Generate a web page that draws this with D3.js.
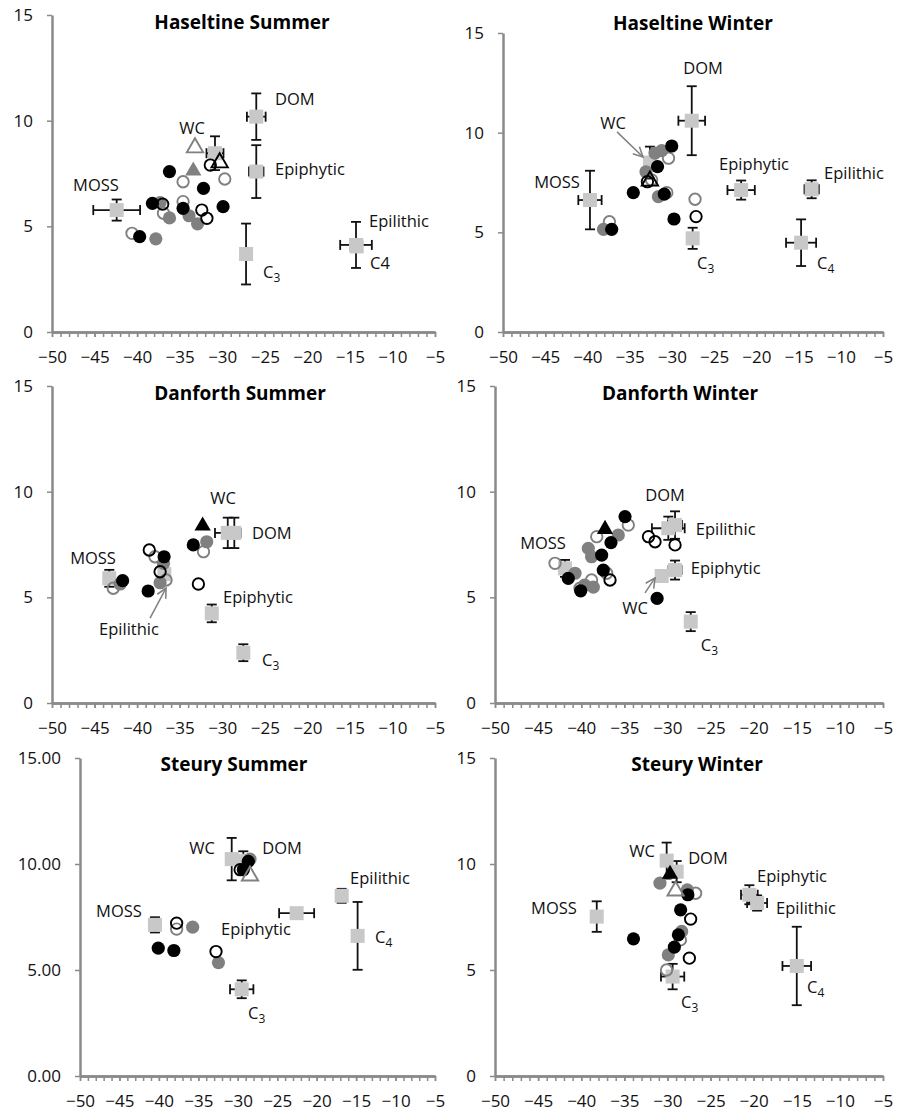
<!DOCTYPE html>
<html>
<head>
<meta charset="utf-8">
<script src="https://cdn.jsdelivr.net/npm/d3@7"></script>
<style>
  body { margin: 0; background: #fff; }
  svg { display: block; }
</style>
</head>
<body>
<div id="chart"></div>
<script>
// ---- data: [d13C, d15N] per marker type, one group of arrays per panel ----
const xTicks = [-50, -45, -40, -35, -30, -25, -20, -15, -10, -5];
const yTicks = [0, 5, 10, 15];

// Haseltine Summer
const hsSolidBlack = [[-36.2, 7.59], [-32.2, 6.8], [-38.2, 6.09], [-34.6, 5.85], [-29.9, 5.93], [-39.7, 4.51]];
const hsSolidGray = [[-37.3, 6.12], [-36.2, 5.4], [-33.9, 5.5], [-32.9, 5.12], [-37.8, 4.41]];
const hsOpenBlack = [[-31.4, 7.9], [-37.0, 6.05], [-32.4, 5.77], [-31.8, 5.38]];
const hsOpenGray = [[-29.7, 7.24], [-34.6, 7.11], [-36.9, 5.62], [-34.6, 6.17], [-40.6, 4.67]];
const hsTriangles = [[-33.2, 8.77, "openGray"], [-33.4, 7.67, "solidGray"], [-30.3, 8.06, "openBlack"]];
// [name, x, y, xErr, yErr]
const hsSources = [["MOSS", -42.4, 5.77, 2.75, 0.5], ["WC", -30.85, 8.46, 1.0, 0.8], ["DOM", -26.0, 10.19, 1.1, 1.1],
  ["Epiphytic", -26.0, 7.59, 0.85, 1.25], ["C3", -27.2, 3.69, 0, 1.44], ["Epilithic", -14.28, 4.12, 1.86, 1.09], ["C4", -14.2, 4.05, 0, 0]];
// [text, x, y, anchor, subscript]
const hsLabels = [["DOM", -23.8, 11.03, "start"], ["WC", -33.55, 9.65, "middle"], ["Epiphytic", -23.8, 7.71, "start"],
  ["MOSS", -44.83, 6.96, "middle"], ["Epilithic", -12.75, 5.25, "start"], ["C4", -12.63, 3.27, "start"], ["C", -25.2, 2.84, "start", "3"]];
const hsArrows = [];

// Haseltine Winter
const hwSolidBlack = [[-30.02, 9.33], [-31.7, 8.3], [-34.57, 6.99], [-30.9, 6.92], [-29.75, 5.67], [-37.13, 5.15]];
const hwSolidGray = [[-32.0, 8.97], [-31.2, 9.1], [-33.07, 8.04], [-31.6, 6.79], [-38.1, 5.15]];
const hwOpenBlack = [[-32.9, 7.54], [-27.14, 5.79]];
const hwOpenGray = [[-30.4, 8.72], [-32.4, 7.63], [-30.6, 6.99], [-27.26, 6.66], [-37.4, 5.53]];
const hwTriangles = [[-32.6, 7.63, "openBlack"]];
const hwSources = [["MOSS", -39.7, 6.62, 1.38, 1.47], ["WC", -32.6, 8.5, 0.6, 0.8], ["DOM", -27.65, 10.6, 1.58, 1.73],
  ["Epiphytic", -21.8, 7.12, 1.62, 0.48], ["C3", -27.54, 4.7, 0, 0.53], ["Epilithic", -13.45, 7.16, 0.85, 0.45], ["C4", -14.7, 4.48, 1.78, 1.17]];
const hwLabels = [["DOM", -26.3, 13.25, "middle"], ["WC", -36.97, 10.49, "middle"], ["Epiphytic", -20.27, 8.43, "middle"],
  ["Epilithic", -8.43, 7.98, "middle"], ["MOSS", -43.6, 7.53, "middle"], ["C", -27.03, 3.46, "start", "3"], ["C", -12.81, 3.46, "start", "4"]];
const hwArrows = [[-36.5, 10.04, -33.42, 8.78]];

// Danforth Summer
const dsSolidBlack = [[-33.4, 7.48], [-36.83, 6.92], [-38.7, 5.3], [-41.7, 5.79]];
const dsSolidGray = [[-31.82, 7.63], [-36.9, 6.61], [-37.3, 5.69], [-42.0, 5.63]];
const dsOpenBlack = [[-38.57, 7.24], [-37.3, 6.21], [-32.8, 5.63]];
const dsOpenGray = [[-32.2, 7.16], [-37.9, 6.92], [-36.6, 5.82], [-42.8, 5.43]];
const dsTriangles = [[-32.3, 8.43, "solidBlack"]];
const dsSources = [["MOSS", -43.27, 5.9, 0, 0.4], ["Epilithic", -36.8, 6.1, 0, 0], ["WC", -29.35, 8.05, 1.5, 0.72],
  ["DOM", -28.58, 8.05, 0, 0.72], ["Epiphytic", -31.23, 4.24, 0, 0.42], ["C3", -27.52, 2.38, 0, 0.4]];
const dsLabels = [["MOSS", -45.18, 6.86, "middle"], ["WC", -29.9, 9.7, "middle"], ["DOM", -26.5, 8.05, "start"],
  ["Epiphytic", -29.9, 5.02, "start"], ["Epilithic", -40.95, 3.5, "middle"], ["C", -25.32, 2.03, "start", "3"]];
const dsArrows = [[-38.48, 4.02, -36.6, 5.44]];

// Danforth Winter
const dwSolidBlack = [[-34.92, 8.82], [-36.55, 7.59], [-37.63, 7.0], [-37.44, 6.29], [-41.5, 5.9], [-40.06, 5.31], [-31.2, 4.95]];
const dwSolidGray = [[-35.7, 7.95], [-39.18, 7.32], [-38.8, 6.92], [-40.72, 6.14], [-38.6, 5.48], [-39.6, 5.58]];
const dwOpenBlack = [[-32.2, 7.87], [-31.44, 7.63], [-29.12, 7.48], [-36.66, 5.82]];
const dwOpenGray = [[-34.54, 8.42], [-38.2, 7.87], [-37.05, 6.14], [-43.04, 6.61], [-38.8, 5.82], [-40.14, 5.43]];
const dwTriangles = [[-37.24, 8.27, "solidBlack"]];
const dwSources = [["MOSS", -41.88, 6.37, 0, 0.4], ["DOM", -29.9, 8.27, 1.9, 0.55], ["Epilithic", -29.12, 8.42, 0.8, 0.65],
  ["Epiphytic", -29.12, 6.29, 0.75, 0.45], ["WC", -30.67, 6.01, 0, 0], ["C3", -27.3, 3.85, 0, 0.45]];
const dwLabels = [["DOM", -30.28, 9.84, "middle"], ["Epilithic", -26.72, 8.23, "start"], ["Epiphytic", -27.3, 6.39, "start"],
  ["MOSS", -44.43, 7.57, "middle"], ["WC", -33.76, 4.5, "middle"], ["C", -26.14, 2.74, "start", "3"]];
const dwArrows = [[-32.6, 5.21, -31.44, 5.92]];

// Steury Summer
const ssSolidBlack = [[-28.67, 10.12], [-29.3, 9.73], [-40.08, 6.03], [-38.1, 5.92]];
const ssSolidGray = [[-28.45, 10.23], [-35.72, 7.02], [-32.45, 5.35]];
const ssOpenBlack = [[-29.7, 9.73], [-37.75, 7.21], [-32.76, 5.87]];
const ssOpenGray = [[-37.75, 6.93]];
const ssTriangles = [[-28.45, 9.49, "openGray"]];
const ssSources = [["WC", -30.77, 10.23, 0, 1.0], ["DOM", -29.3, 10.15, 0, 0.45], ["MOSS", -40.5, 7.13, 0, 0.36],
  ["C3", -29.5, 4.09, 1.48, 0.42], ["Epiphytic", -22.54, 7.68, 2.22, 0], ["Epilithic", -16.83, 8.5, 0, 0.33], ["C4", -14.81, 6.61, 0, 1.6]];
const ssLabels = [["WC", -34.54, 10.76, "middle"], ["DOM", -24.39, 10.76, "middle"], ["Epilithic", -11.97, 9.35, "middle"],
  ["MOSS", -45.06, 7.79, "middle"], ["Epiphytic", -27.69, 6.94, "middle"], ["C", -12.6, 6.56, "start", "4"], ["C", -28.7, 2.97, "start", "3"]];
const ssArrows = [];

// Steury Winter
const swSolidBlack = [[-27.63, 8.55], [-28.47, 7.84], [-28.73, 6.66], [-33.94, 6.47], [-29.2, 6.08]];
const swSolidGray = [[-30.87, 9.1], [-27.7, 8.78], [-28.35, 6.82], [-29.9, 5.71]];
const swOpenBlack = [[-27.31, 7.4], [-27.46, 5.56]];
const swOpenGray = [[-26.73, 8.62], [-28.5, 6.42], [-30.1, 5.0]];
const swTriangles = [[-29.7, 9.57, "solidBlack"], [-29.05, 8.78, "openGray"]];
const swSources = [["WC", -30.09, 10.16, 0, 0.85], ["DOM", -28.93, 9.64, 0, 0.5], ["MOSS", -38.2, 7.52, 0.4, 0.72],
  ["Epiphytic", -20.5, 8.55, 0.97, 0.45], ["Epilithic", -19.6, 8.16, 1.16, 0.36], ["C3", -29.4, 4.69, 1.35, 0.6], ["C4", -15.0, 5.19, 1.66, 1.85]];
const swLabels = [["WC", -32.95, 10.58, "middle"], ["DOM", -25.3, 10.25, "middle"], ["Epiphytic", -15.55, 9.4, "middle"],
  ["Epilithic", -13.93, 7.93, "middle"], ["MOSS", -43.16, 7.93, "middle"], ["C", -28.43, 3.49, "start", "3"], ["C", -13.81, 4.2, "start", "4"]];
const swArrows = [];

// ---- layout ----
const FONT = "'Open Sans', 'Liberation Sans', sans-serif";
const AXIS_GRAY = "#8a8a8a";
const MID_GRAY = "#808080";
const SOURCE_FILL = "#c8c8c8";

const panels = [
  { title: "Haseltine Summer", left: 52, right: 435, top: 15, bottom: 332, titleX: 242, titleY: 22, yFmt: "d",
    solidBlack: hsSolidBlack, solidGray: hsSolidGray, openBlack: hsOpenBlack, openGray: hsOpenGray,
    triangles: hsTriangles, sources: hsSources, labels: hsLabels, arrows: hsArrows },
  { title: "Haseltine Winter", left: 503, right: 883, top: 33, bottom: 332, titleX: 693, titleY: 23, yFmt: "d",
    solidBlack: hwSolidBlack, solidGray: hwSolidGray, openBlack: hwOpenBlack, openGray: hwOpenGray,
    triangles: hwTriangles, sources: hwSources, labels: hwLabels, arrows: hwArrows },
  { title: "Danforth Summer", left: 52, right: 435, top: 386, bottom: 703, titleX: 240, titleY: 393, yFmt: "d",
    solidBlack: dsSolidBlack, solidGray: dsSolidGray, openBlack: dsOpenBlack, openGray: dsOpenGray,
    triangles: dsTriangles, sources: dsSources, labels: dsLabels, arrows: dsArrows },
  { title: "Danforth Winter", left: 495, right: 883, top: 386, bottom: 703, titleX: 680, titleY: 393, yFmt: "d",
    solidBlack: dwSolidBlack, solidGray: dwSolidGray, openBlack: dwOpenBlack, openGray: dwOpenGray,
    triangles: dwTriangles, sources: dwSources, labels: dwLabels, arrows: dwArrows },
  { title: "Steury Summer", left: 80, right: 435, top: 758, bottom: 1076, titleX: 234, titleY: 764, yFmt: ".2f",
    solidBlack: ssSolidBlack, solidGray: ssSolidGray, openBlack: ssOpenBlack, openGray: ssOpenGray,
    triangles: ssTriangles, sources: ssSources, labels: ssLabels, arrows: ssArrows },
  { title: "Steury Winter", left: 495, right: 883, top: 758, bottom: 1076, titleX: 697, titleY: 764, yFmt: "d",
    solidBlack: swSolidBlack, solidGray: swSolidGray, openBlack: swOpenBlack, openGray: swOpenGray,
    triangles: swTriangles, sources: swSources, labels: swLabels, arrows: swArrows }
];

const svg = d3.select("#chart").append("svg")
    .attr("width", 902)
    .attr("height", 1114)
    .style("font-family", FONT);

// arrow head for the pointer labels
svg.append("defs").append("marker")
    .attr("id", "head")
    .attr("viewBox", "0 0 10 10")
    .attr("refX", 9).attr("refY", 5)
    .attr("markerWidth", 8).attr("markerHeight", 8)
    .attr("orient", "auto")
  .append("path")
    .attr("d", "M1,1 L9,5 L1,9")
    .attr("fill", "none")
    .attr("stroke", MID_GRAY)
    .attr("stroke-width", 1.3);

const R = 6.6;
const SQ = 14;
const CAP = 5;
const tri = d3.symbol().type(d3.symbolTriangle).size(115);

panels.forEach(p => {
    const x = d3.scaleLinear().domain([-50, -5]).range([p.left, p.right]);
    const y = d3.scaleLinear().domain([0, 15]).range([p.bottom, p.top]);
    const g = svg.append("g");

    // minor ticks every unit on the x axis
    g.append("g")
        .attr("class", "minor")
        .attr("transform", `translate(0,${p.bottom})`)
        .call(d3.axisBottom(x).tickValues(d3.range(-50, -4, 1)).tickSize(5).tickSizeOuter(0).tickFormat(""));

    // x axis with labels
    g.append("g")
        .attr("class", "x-axis")
        .attr("transform", `translate(0,${p.bottom})`)
        .call(d3.axisBottom(x).tickValues(xTicks).tickSize(5).tickSizeOuter(0).tickPadding(14));

    // y axis
    g.append("g")
        .attr("class", "y-axis")
        .attr("transform", `translate(${p.left},0)`)
        .call(d3.axisLeft(y).tickValues(yTicks).tickSize(5).tickSizeOuter(0).tickPadding(14)
            .tickFormat(d3.format(p.yFmt)));

    g.selectAll(".domain").attr("stroke", AXIS_GRAY).attr("stroke-width", 2.5);
    g.selectAll(".tick line").attr("stroke", AXIS_GRAY).attr("stroke-width", 1.5);
    g.selectAll(".tick text")
        .attr("fill", "#111")
        .style("font-size", "17px")
        .style("font-family", FONT);

    // title
    g.append("text")
        .attr("x", p.titleX)
        .attr("y", p.titleY)
        .attr("dy", "0.35em")
        .attr("text-anchor", "middle")
        .style("font-size", "19px")
        .style("font-weight", "bold")
        .text(p.title);

    // sources: error bars then squares
    const src = g.append("g").attr("class", "sources");
    p.sources.forEach(s => {
        const [name, sx, sy, xe, ye] = s;
        const cx = x(sx), cy = y(sy);
        if (xe > 0) {
            const x0 = x(sx - xe), x1 = x(sx + xe);
            src.append("line").attr("x1", x0).attr("x2", x1).attr("y1", cy).attr("y2", cy);
            src.append("line").attr("x1", x0).attr("x2", x0).attr("y1", cy - CAP).attr("y2", cy + CAP);
            src.append("line").attr("x1", x1).attr("x2", x1).attr("y1", cy - CAP).attr("y2", cy + CAP);
        }
        if (ye > 0) {
            const y0 = y(sy - ye), y1 = y(sy + ye);
            src.append("line").attr("x1", cx).attr("x2", cx).attr("y1", y0).attr("y2", y1);
            src.append("line").attr("x1", cx - CAP).attr("x2", cx + CAP).attr("y1", y0).attr("y2", y0);
            src.append("line").attr("x1", cx - CAP).attr("x2", cx + CAP).attr("y1", y1).attr("y2", y1);
        }
    });
    src.selectAll("line").attr("stroke", "#111").attr("stroke-width", 1.8);
    src.selectAll("rect")
        .data(p.sources)
        .enter().append("rect")
        .attr("x", d => x(d[1]) - SQ / 2)
        .attr("y", d => y(d[2]) - SQ / 2)
        .attr("width", SQ)
        .attr("height", SQ)
        .attr("fill", SOURCE_FILL);

    // consumer markers
    g.append("g").selectAll("circle")
        .data(p.openGray)
        .enter().append("circle")
        .attr("cx", d => x(d[0])).attr("cy", d => y(d[1])).attr("r", R - 0.9)
        .attr("fill", "none").attr("stroke", MID_GRAY).attr("stroke-width", 1.9);

    g.append("g").selectAll("circle")
        .data(p.solidGray)
        .enter().append("circle")
        .attr("cx", d => x(d[0])).attr("cy", d => y(d[1])).attr("r", R)
        .attr("fill", MID_GRAY);

    g.append("g").selectAll("circle")
        .data(p.openBlack)
        .enter().append("circle")
        .attr("cx", d => x(d[0])).attr("cy", d => y(d[1])).attr("r", R - 0.9)
        .attr("fill", "none").attr("stroke", "#000").attr("stroke-width", 1.9);

    g.append("g").selectAll("circle")
        .data(p.solidBlack)
        .enter().append("circle")
        .attr("cx", d => x(d[0])).attr("cy", d => y(d[1])).attr("r", R)
        .attr("fill", "#000");

    const triStyle = {
        solidBlack: ["#000", "none"], solidGray: [MID_GRAY, "none"],
        openBlack: ["none", "#000"], openGray: ["none", MID_GRAY]
    };
    g.append("g").selectAll("path")
        .data(p.triangles)
        .enter().append("path")
        .attr("d", tri)
        .attr("transform", d => `translate(${x(d[0])},${y(d[1]) + 1})`)
        .attr("fill", d => triStyle[d[2]][0])
        .attr("stroke", d => triStyle[d[2]][1])
        .attr("stroke-width", 1.9);

    // pointer arrows
    g.append("g").selectAll("line")
        .data(p.arrows)
        .enter().append("line")
        .attr("x1", d => x(d[0])).attr("y1", d => y(d[1]))
        .attr("x2", d => x(d[2])).attr("y2", d => y(d[3]))
        .attr("stroke", MID_GRAY)
        .attr("stroke-width", 1.5)
        .attr("marker-end", "url(#head)");

    // source labels
    const lab = g.append("g").selectAll("text")
        .data(p.labels)
        .enter().append("text")
        .attr("x", d => x(d[1]))
        .attr("y", d => y(d[2]))
        .attr("dy", "0.35em")
        .attr("text-anchor", d => d[3])
        .style("font-size", "16.5px")
        .attr("fill", "#111")
        .text(d => d[0]);
    lab.filter(d => d[4])
        .append("tspan")
        .attr("dy", "0.35em")
        .style("font-size", "12px")
        .text(d => d[4]);
});
</script>
</body>
</html>
